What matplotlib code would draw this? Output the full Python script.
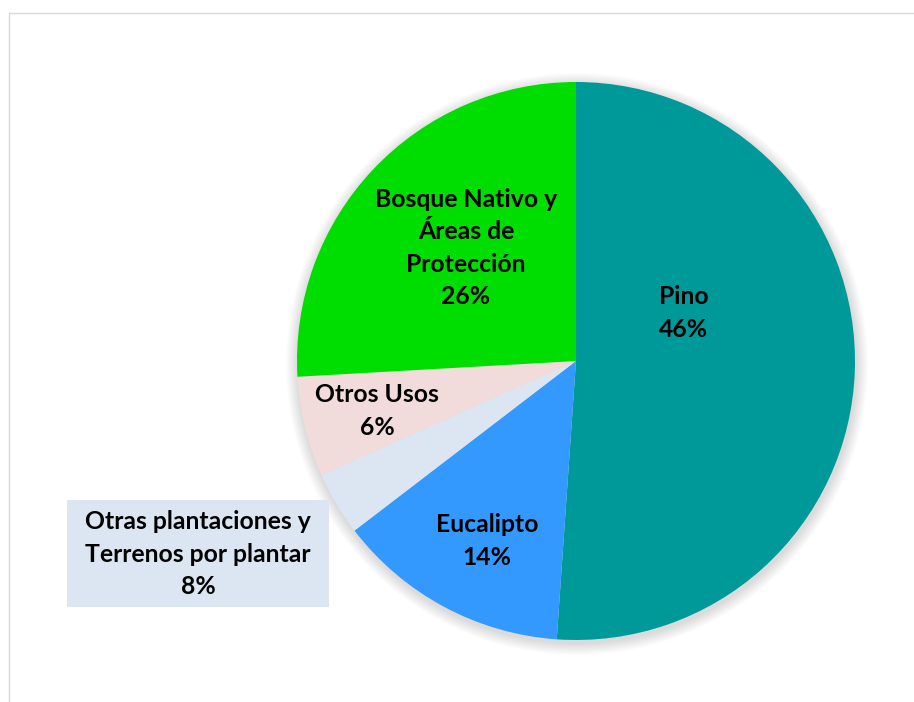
import matplotlib.pyplot as plt
from matplotlib.patches import Circle, Rectangle

# slice sizes; the printed percentages are kept as in the chart
categories = ["Pino", "Eucalipto", "Otras plantaciones y\nTerrenos por plantar",
              "Otros Usos", "Bosque Nativo y\nÁreas de\nProtección"]
values = [51.1, 13.5, 3.7, 5.8, 25.9]
pct_labels = ["46%", "14%", "8%", "6%", "26%"]
colors = ["#009999", "#3399FF", "#DCE6F2", "#F2DCDB", "#00DD00"]

# label centres in pixels (x from left, y from top)
label_pos = [(684, 313), (487, 541), (198, 554), (377, 411), (466, 248)]
# box behind the outside label: left, top, right, bottom (pixels)
label_box = (67, 500, 329, 607)

W, H = 914, 702
CX, CY, R = 576, 361, 279

plt.rcParams["font.family"] = ["Lato", "DejaVu Sans"]

fig = plt.figure(figsize=(W / 100, H / 100), dpi=100)
ax = fig.add_axes([0, 0, 1, 1])

# soft shadow under the pie
for k in range(12):
    ax.add_patch(Circle((CX + 1, H - CY - 3), R + 12 - k, color="black",
                        alpha=0.012, lw=0, zorder=0))

ax.pie(values, colors=colors, startangle=90, counterclock=False,
       center=(CX, H - CY), radius=R, wedgeprops=dict(linewidth=0))

ax.set_xlim(0, W)
ax.set_ylim(0, H)
ax.set_aspect("equal")
ax.axis("off")

# chart border
ax.add_patch(Rectangle((8.5, -10), W, H - 12.5 + 10, fill=False,
                       edgecolor="#D9D9D9", lw=1, zorder=5))

bl, bt, br, bb = label_box
ax.add_patch(Rectangle((bl, H - bb), br - bl, bb - bt, facecolor=colors[2],
                       edgecolor="none", zorder=5))

for i, (name, pct) in enumerate(zip(categories, pct_labels)):
    x, y = label_pos[i]
    ax.text(x, H - y, f"{name}\n{pct}", ha="center", va="center",
            fontsize=17.8, fontweight="bold", color="black",
            linespacing=1.5, zorder=6)

fig.savefig("out.png", dpi=100)
